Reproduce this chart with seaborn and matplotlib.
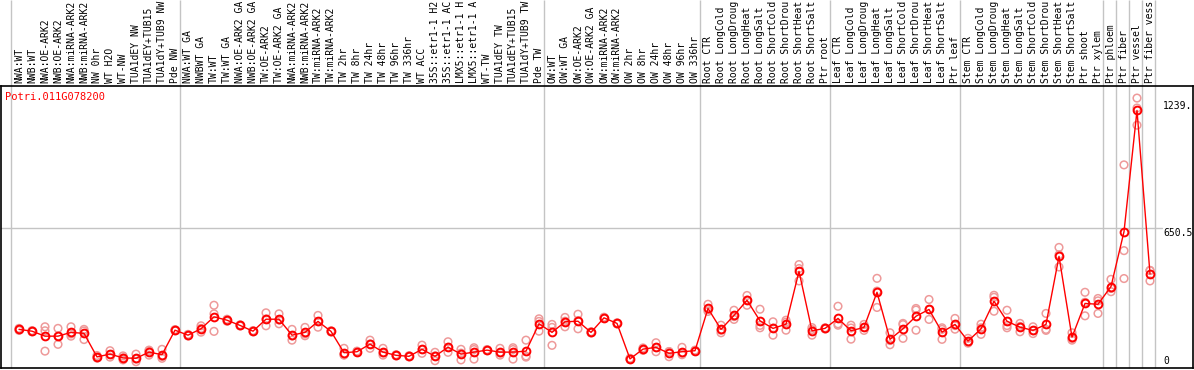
import matplotlib
matplotlib.use("Agg")
import matplotlib.pyplot as plt
import matplotlib.transforms as mtransforms
import numpy as np
import pandas as pd
import seaborn as sns

GENE = "Potri.011G078200"

# sample labels, in plotting order, one list per tissue group
group_nw = ["NWA:WT", "NWB:WT", "NWA:OE-ARK2", "NWB:OE-ARK2", "NWA:miRNA-ARK2",
            "NWB:miRNA-ARK2", "NW 0hr", "WT H2O", "WT-NW", "TUA1dEY NW",
            "TUA1dEY+TUB15", "TUA1dY+TUB9 NW", "Pde NW"]
group_tw = ["NWA:WT GA", "NWBWT GA", "TW:WT", "TW:WT GA", "NWA:OE-ARK2 GA",
            "NWB:OE-ARK2 GA", "TW:OE-ARK2", "TW:OE-ARK2 GA", "NWA:miRNA-ARK2",
            "NWB:miRNA-ARK2", "TW:miRNA-ARK2", "TW:miRNA-ARK2", "TW 2hr",
            "TW 8hr", "TW 24hr", "TW 48hr", "TW 96hr", "TW 336hr", "WT ACC",
            "35S::etr1-1 H2", "35S::etr1-1 AC", "LMX5::etr1-1 H",
            "LMX5::etr1-1 A", "WT-TW", "TUA1dEY TW", "TUA1dEY+TUB15",
            "TUA1dY+TUB9 TW", "Pde TW"]
group_ow = ["OW:WT", "OW:WT GA", "OW:OE-ARK2", "OW:OE-ARK2 GA", "OW:miRNA-ARK2",
            "OW:miRNA-ARK2", "OW 2hr", "OW 8hr", "OW 24hr", "OW 48hr", "OW 96hr",
            "OW 336hr"]
group_root = ["Root CTR", "Root LongCold", "Root LongDroug", "Root LongHeat",
              "Root LongSalt", "Root ShortCold", "Root ShortDrou",
              "Root ShortHeat", "Root ShortSalt", "Ptr root"]
group_leaf = ["Leaf CTR", "Leaf LongCold", "Leaf LongDroug", "Leaf LongHeat",
              "Leaf LongSalt", "Leaf ShortCold", "Leaf ShortDrou",
              "Leaf ShortHeat", "Leaf ShortSalt", "Ptr leaf"]
group_stem = ["Stem CTR", "Stem LongCold", "Stem LongDroug", "Stem LongHeat",
              "Stem LongSalt", "Stem ShortCold", "Stem ShortDrou",
              "Stem ShortHeat", "Stem ShortSalt", "Ptr shoot", "Ptr xylem"]
group_phloem = ["Ptr phloem"]
group_fiber = ["Ptr fiber"]
group_vessel = ["Ptr vessel"]
group_fibves = ["Ptr fiber vess"]

groups = [group_nw, group_tw, group_ow, group_root, group_leaf, group_stem,
          group_phloem, group_fiber, group_vessel, group_fibves]

# mean expression per sample
means = [141, 132, 107, 107, 126, 121, 3, 17, -2, -4, 27, 14, 137,
         112, 144, 204, 187, 161, 132, 192, 192, 112, 126, 181, 131, 24, 29,
         67, 27, 11, 6, 41, 6, 52, 17, 27, 37, 27, 27, 32, 169,
         126, 179, 182, 126, 199, 171, -7, 42, 51, 21, 29, 34,
         246, 141, 211, 287, 184, 146, 167, 432, 134, 146,
         196, 134, 151, 327, 91, 144, 207, 241, 127, 166,
         82, 144, 282, 182, 152, 136, 166, 507, 102, 271, 267,
         356, 631, 1239, 419]

# biological replicates
rep1 = [146, 135, 154, 146, 154, 141, 10, 34, 8, 17, 37, 41, 140,
        116, 159, 262, 192, 164, 135, 224, 219, 141, 151, 211, 134, 46, 32,
        87, 46, 14, 9, 62, 26, 79, 41, 49, 40, 46, 49, 87, 194,
        166, 201, 217, 129, 202, 174, -4, 48, 74, 29, 51, 37,
        267, 162, 237, 311, 242, 179, 187, 466, 140, 149,
        257, 162, 166, 397, 124, 171, 246, 291, 149, 196,
        96, 167, 312, 237, 171, 154, 221, 552, 124, 327, 296,
        392, 966, 1301, 437]
rep2 = [141, 132, 134, 107, 118, 133, 2, 15, -2, -8, 32, 5, 137,
        112, 146, 219, 187, 161, 132, 193, 188, 108, 118, 180, 131, 14, 29,
        68, 23, 11, 6, 40, 8, 51, 22, 40, 37, 23, 40, 7, 181,
        151, 182, 185, 126, 199, 171, -7, 42, 50, 30, 22, 34,
        240, 137, 205, 288, 161, 147, 177, 446, 150, 146,
        169, 148, 151, 333, 85, 165, 238, 241, 141, 160,
        78, 149, 302, 160, 156, 134, 136, 515, 95, 277, 284,
        346, 536, 1165, 436]
rep3 = [136, 129, 32, 66, 107, 90, -3, 2, -12, -21, 12, -4, 134,
        108, 127, 131, 182, 158, 129, 159, 169, 87, 109, 152, 128, 12, 26,
        46, 12, 8, 3, 21, -16, 26, -12, -8, 34, 12, -8, 2, 132,
        61, 154, 144, 123, 196, 168, -10, 36, 29, 4, 14, 31,
        231, 124, 191, 262, 149, 112, 137, 384, 112, 143,
        162, 92, 136, 251, 64, 96, 137, 191, 91, 142,
        72, 116, 232, 149, 129, 120, 141, 454, 87, 209, 221,
        330, 396, 1251, 384]

RED = "#ff0000"
PINK = "#ee9a9a"
GRID = "#c4c4c4"
MONO = ["DejaVu Sans Mono"]

W, H = 1194, 370
# pixel layout of the reference
X0_PX, STEP_PX = 19, 13          # first sample centre, sample spacing
AX_L, AX_R, AX_T, AX_B = 1, 1193, 86, 368
ZERO_PX, UNIT_PX = 357.5, 1 / 5.015

labels = [lab for g in groups for lab in g]
idx = np.arange(len(labels))

df = pd.DataFrame({"sample": idx, "mean": means})
reps = pd.DataFrame({
    "sample": np.concatenate([idx, idx, idx]),
    "value": np.concatenate([rep1, rep2, rep3]),
})

sns.set_style("white")
plt.rcParams["font.family"] = MONO

fig = plt.figure(figsize=(W / 100, H / 100), dpi=100)
ax = fig.add_axes([AX_L / W, (H - AX_B) / H, (AX_R - AX_L) / W, (AX_B - AX_T) / H])

px2x = lambda px: (px - X0_PX) / STEP_PX
px2y = lambda py: (ZERO_PX - py) / UNIT_PX
ax.set_xlim(px2x(AX_L), px2x(AX_R))
ax.set_ylim(px2y(AX_B), px2y(AX_T))

# group separators run through the label band as well
bounds = np.cumsum([0] + [len(g) for g in groups])
trans = mtransforms.blended_transform_factory(ax.transData, ax.transAxes)
sep_x = bounds - 8 / STEP_PX
ax.vlines(sep_x, 0, 1 + AX_T / (AX_B - AX_T), transform=trans, color=GRID,
          linewidth=1, clip_on=False, zorder=0)

mid = max(rep1 + rep2 + rep3) / 2
ax.axhline(mid, xmin=0, xmax=(1162 - AX_L) / (AX_R - AX_L), color=GRID,
           linewidth=1, zorder=0)

sns.scatterplot(data=reps, x="sample", y="value", marker="o", s=30,
                fc="none", ec=PINK, linewidth=1.1, ax=ax, zorder=2, legend=False)
sns.lineplot(data=df, x="sample", y="mean", color=RED, linewidth=1,
             marker="o", markersize=5.6, markerfacecolor="none",
             markeredgecolor=RED, markeredgewidth=1.4, sort=False,
             estimator=None, ax=ax, zorder=3)

for i, lab in enumerate(labels):
    ax.text(i, 1 + 3 / (AX_B - AX_T), lab, transform=trans, rotation=90,
            ha="center", va="bottom", fontsize=7, color="black", clip_on=False)

fig.text(5 / W, 1 - 97 / H, GENE, color=RED, fontsize=7.5, va="center", ha="left")

# value labels on the right, inside the frame
for val, txt, dy in [(max(means), f"{max(means):.0f}.", 4),
                     (mid, f"{mid:.1f}", -5), (0, "0", -4)]:
    ax.annotate(txt, xy=(1, val), xycoords=("axes fraction", "data"),
                xytext=(1163 - AX_R, dy), textcoords="offset pixels",
                ha="left", va="center", fontsize=7, color="black")

ax.set_xticks([])
ax.set_yticks([])
ax.set_xlabel("")
ax.set_ylabel("")
for sp in ax.spines.values():
    sp.set_visible(True)
    sp.set_color("black")
    sp.set_linewidth(1.2)

fig.savefig("out.png", dpi=100)
